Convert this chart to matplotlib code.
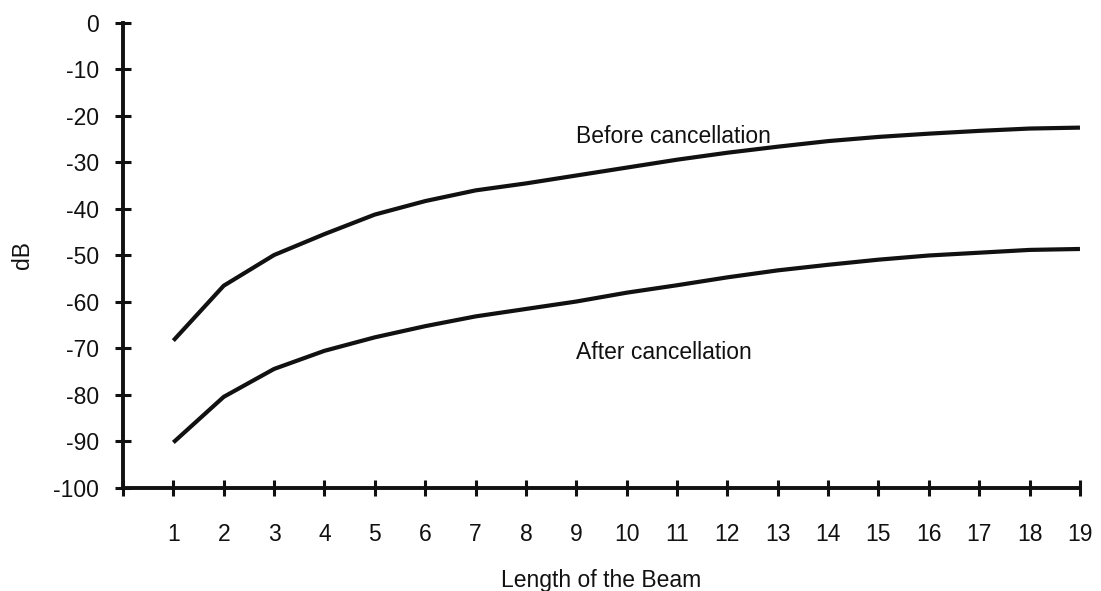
import matplotlib
matplotlib.use('Agg')
import matplotlib.pyplot as plt

# data
beam_length = list(range(1, 20))
before_db = [-68.3, -56.5, -49.9, -45.4, -41.2, -38.3, -36.0, -34.5, -32.8, -31.1,
             -29.4, -27.9, -26.6, -25.4, -24.5, -23.8, -23.2, -22.7, -22.5]
after_db = [-90.2, -80.4, -74.4, -70.5, -67.6, -65.2, -63.1, -61.5, -59.9, -58.0,
            -56.4, -54.7, -53.2, -52.0, -50.9, -50.0, -49.4, -48.8, -48.6]
x_ticks = list(range(0, 20))
x_ticklabels = [''] + [str(v) for v in beam_length]
y_ticks = list(range(-100, 1, 10))

plt.rcParams['font.family'] = ['Liberation Sans', 'DejaVu Sans']
plt.rcParams['axes.unicode_minus'] = False

fig = plt.figure(figsize=(11.01, 5.91), dpi=100)
ax = fig.add_axes([0.1117, 0.1743, 0.8692, 0.7868])

ax.plot(beam_length, before_db, color='#111111', lw=3.0, solid_capstyle='butt')
ax.plot(beam_length, after_db, color='#111111', lw=3.0, solid_capstyle='butt')

ax.text(9.0, -24.5, 'Before cancellation', fontsize=16.5, va='center', ha='left', color='#111111')
ax.text(9.0, -70.8, 'After cancellation', fontsize=16.5, va='center', ha='left', color='#111111')

ax.set_xlim(0, 19)
ax.set_ylim(-100, 0)
ax.set_xticks(x_ticks)
ax.set_xticklabels(x_ticklabels)
ax.set_yticks(y_ticks)

for side in ['top', 'right']:
    ax.spines[side].set_visible(False)
for side in ['left', 'bottom']:
    ax.spines[side].set_linewidth(2.8)
    ax.spines[side].set_color('#111111')

ax.tick_params(axis='both', direction='inout', length=12, width=2.2, color='#111111',
               labelsize=16.5, labelcolor='#111111')
ax.tick_params(axis='x', pad=19)
ax.tick_params(axis='y', pad=11)

ax.set_xlabel('Length of the Beam', fontsize=16.5, labelpad=17, color='#111111')
ax.set_ylabel('dB', fontsize=16.5, labelpad=14, color='#111111')

fig.savefig('out.png', dpi=100, facecolor='white')
